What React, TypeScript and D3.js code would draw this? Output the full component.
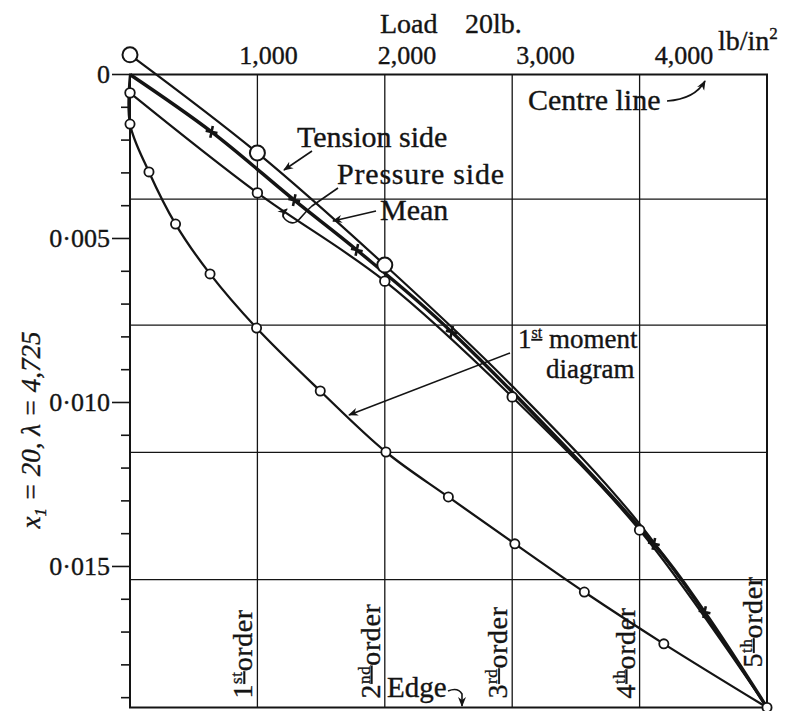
import React from 'react';
import * as d3 from 'd3';

const W = 796;
const H = 711;

// ---- axis / grid data ----
const loadTicks = [1000, 2000, 3000, 4000];
const loadTickLabels = ['1,000', '2,000', '3,000', '4,000'];
const deflMajorTicks = [0, 0.005, 0.01, 0.015];
const deflMajorLabels = ['0', '0·005', '0·010', '0·015'];
const deflMinorTicks = [0.001, 0.002, 0.003, 0.004, 0.006, 0.007, 0.008, 0.009, 0.011, 0.012, 0.013, 0.014, 0.016, 0.017, 0.018, 0.019];
const orderLoads = [920, 1840, 2760, 3680, 4600];
const orderNums = ['1', '2', '3', '4', '5'];
const orderSuffix = ['st', 'nd', 'rd', 'th', 'th'];
const gridDefl = [0.0038, 0.00764, 0.01152, 0.0154];

// ---- series data (load lb/in², deflection) ----
const tensionLoad = [0, 920, 1840, 2760, 3680, 4600];
const tensionDefl = [-0.0006, 0.00239, 0.00581, 0.0095, 0.0137, 0.0193];
const tensionMarkerCount = 3;

const pressureLoad = [0, 920, 1840, 2760, 3680, 4600];
const pressureDefl = [0.00056, 0.00361, 0.0063, 0.00983, 0.01389, 0.0193];
const pressureMarkerCount = 5;

const meanLoad = [0, 589, 1186, 1638, 2323, 3783, 4149, 4600];
const meanDefl = [0, 0.00175, 0.00383, 0.00535, 0.00785, 0.01431, 0.01639, 0.0193];

const momentLoad = [0, 0, 137, 329, 578, 914, 1374, 1848, 2299, 2779, 3281, 3855, 4600];
const momentDefl = [0, 0.00151, 0.00297, 0.00456, 0.00608, 0.00773, 0.00965, 0.01151, 0.01288, 0.01431, 0.01578, 0.01736, 0.0193];

const INK = '#141414';
const FONT = "'Liberation Serif', 'Times New Roman', serif";

function zip(a: number[], b: number[]): [number, number][] {
  return a.map((v, i) => [v, b[i]] as [number, number]);
}

export default function App() {
  const left = 130, right = 767, top = 74.5, bottom = 707.5;
  const x = d3.scaleLinear().domain([0, 4600]).range([left, right]);
  const y = d3.scaleLinear().domain([0, 0.0193]).range([top, bottom]);

  const smooth = d3
    .line<[number, number]>()
    .x((d) => x(d[0]))
    .y((d) => y(d[1]))
    .curve(d3.curveCatmullRom.alpha(0.5));

  const tension = zip(tensionLoad, tensionDefl);
  const pressure = zip(pressureLoad, pressureDefl);
  const mean = zip(meanLoad, meanDefl);
  const moment = zip(momentLoad, momentDefl);

  const txt = { fontFamily: FONT, fill: INK, stroke: INK, strokeWidth: 0.35 } as const;

  return (
    <svg
      width={W}
      height={H}
      viewBox={`0 0 ${W} ${H}`}
      style={{ position: 'absolute', left: 0, top: 0, background: '#fff' }}
    >
      <defs>
        <marker id="ah" viewBox="0 0 10 10" refX="9" refY="5" markerWidth="10" markerHeight="10" markerUnits="userSpaceOnUse" orient="auto">
          <path d="M0,1 L10,5 L0,9 L3,5 z" fill={INK} />
        </marker>
      </defs>
      <rect x={0} y={0} width={W} height={H} fill="#fff" />

      {/* grid */}
      {orderLoads.slice(0, 4).map((v, i) => (
        <line key={'vg' + i} x1={x(v)} x2={x(v)} y1={top} y2={bottom} stroke={INK} strokeWidth={1.3} />
      ))}
      {gridDefl.map((v, i) => (
        <line key={'hg' + i} x1={left} x2={right} y1={y(v)} y2={y(v)} stroke={INK} strokeWidth={1.3} />
      ))}
      <rect x={left} y={top} width={right - left} height={bottom - top} fill="none" stroke={INK} strokeWidth={2} />

      {/* left ticks */}
      {deflMinorTicks.map((v, i) => (
        <line key={'mt' + i} x1={left - 9} x2={left} y1={y(v)} y2={y(v)} stroke={INK} strokeWidth={1.6} />
      ))}
      {deflMajorTicks.map((v, i) => (
        <g key={'Mt' + i}>
          <line x1={left - 18} x2={left} y1={y(v)} y2={y(v)} stroke={INK} strokeWidth={1.6} />
          <text x={left - 20} y={y(v)} dy="0.34em" textAnchor="end" fontSize={26} {...txt}>
            {deflMajorLabels[i]}
          </text>
        </g>
      ))}

      {/* top labels */}
      {loadTicks.map((v, i) => (
        <text key={'lt' + i} x={x(v)} y={64} textAnchor="middle" fontSize={26} {...txt}>
          {loadTickLabels[i]}
        </text>
      ))}
      <text x={380} y={33} fontSize={28} {...txt}>
        Load<tspan x={465}>20lb.</tspan>
      </text>
      <text x={718} y={50} fontSize={28} {...txt}>
        lb/in<tspan dy={-11} fontSize={17}>2</tspan>
      </text>

      {/* left rotated label */}
      <text transform="translate(40,430) rotate(-90)" textAnchor="middle" fontSize={27} fontStyle="italic" {...txt}>
        x<tspan dy={6} fontSize={17}>1</tspan>
        <tspan dy={-6}> = 20,   λ = 4,725</tspan>
      </text>

      {/* series lines */}
      <path d={smooth(moment) || ''} fill="none" stroke={INK} strokeWidth={2.3} />
      <path d={smooth(pressure) || ''} fill="none" stroke={INK} strokeWidth={2.2} />
      <path d={smooth(tension) || ''} fill="none" stroke={INK} strokeWidth={2.2} />
      <path d={smooth(mean) || ''} fill="none" stroke={INK} strokeWidth={3.4} />

      {/* markers */}
      {moment.slice(1).map((d, i) => (
        <circle key={'mc' + i} cx={x(d[0])} cy={y(d[1])} r={4.6} fill="#fff" stroke={INK} strokeWidth={1.8} />
      ))}
      {pressure.slice(0, pressureMarkerCount).map((d, i) => (
        <circle key={'pc' + i} cx={x(d[0])} cy={y(d[1])} r={4.8} fill="#fff" stroke={INK} strokeWidth={1.8} />
      ))}
      {tension.slice(0, tensionMarkerCount).map((d, i) => (
        <circle key={'tc' + i} cx={x(d[0])} cy={y(d[1])} r={7.5} fill="#fff" stroke={INK} strokeWidth={2} />
      ))}
      {mean.slice(1, mean.length - 1).map((d, i) => {
        const cx = x(d[0]);
        const cy = y(d[1]);
        const a = 6;
        return (
          <path
            key={'mx' + i}
            transform={`rotate(12,${cx},${cy})`}
            d={`M${cx - a},${cy}L${cx + a},${cy}M${cx},${cy - a}L${cx},${cy + a}`}
            stroke={INK}
            strokeWidth={2.6}
          />
        );
      })}

      {/* order labels */}
      {orderLoads.map((v, i) => (
        <text
          key={'ol' + i}
          transform={`translate(${x(v) - 5},${i === 4 ? bottom - 40 : bottom - 9}) rotate(-90)`}
          fontSize={28}
          letterSpacing={0.6}
          {...txt}
        >
          {orderNums[i]}
          <tspan dy={-10} fontSize={17} textDecoration="underline">{orderSuffix[i]}</tspan>
          <tspan dy={10}>order</tspan>
        </text>
      ))}

      {/* annotations */}
      <text x={297} y={147} fontSize={30} {...txt}>Tension side</text>
      <path d="M312,151 L284,170" fill="none" stroke={INK} strokeWidth={1.6} markerEnd="url(#ah)" />

      <text x={337} y={184} fontSize={30} letterSpacing={0.8} {...txt}>Pressure side</text>
      <path d="M338,188 L312,206 C300,216 298,226 289,222 C281,218 282,213 287,209" fill="none" stroke={INK} strokeWidth={1.6} markerEnd="url(#ah)" />

      <text x={380} y={220} fontSize={30} {...txt}>Mean</text>
      <path d="M376,211 L333,221" fill="none" stroke={INK} strokeWidth={1.6} markerEnd="url(#ah)" />

      <text x={518} y={348} fontSize={27} {...txt}>
        1<tspan dy={-10} fontSize={16} textDecoration="underline">st</tspan>
        <tspan dy={10}> moment</tspan>
      </text>
      <text x={546} y={378} fontSize={27} {...txt}>diagram</text>
      <path d="M510,353 L349,415" fill="none" stroke={INK} strokeWidth={1.6} markerEnd="url(#ah)" />

      <text x={528} y={110} fontSize={30} {...txt}>Centre line</text>
      <path d="M667,101 Q695,99 705,81" fill="none" stroke={INK} strokeWidth={1.6} markerEnd="url(#ah)" />

      <text x={387} y={697} fontSize={29} {...txt}>Edge</text>
      <path d="M448,691 Q458,687 462,694 L462,706" fill="none" stroke={INK} strokeWidth={1.6} markerEnd="url(#ah)" />
    </svg>
  );
}
